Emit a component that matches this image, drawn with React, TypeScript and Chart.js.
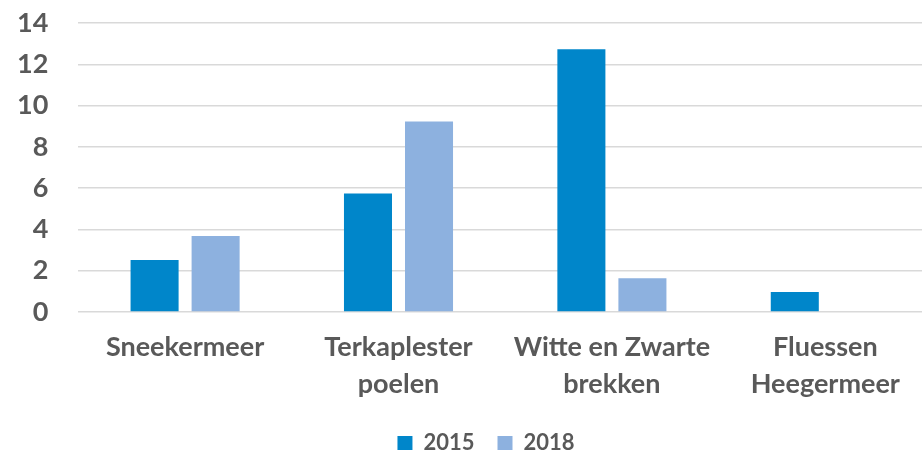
import React, { useEffect, useRef } from "react";
import { Chart, registerables } from "chart.js";

Chart.register(...registerables);

const categories: (string | string[])[] = [
  "Sneekermeer",
  ["Terkaplester", "poelen"],
  ["Witte en Zwarte", "brekken"],
  ["Fluessen", "Heegermeer"],
];
const seriesNames = ["2015", "2018"];
const values2015 = [2.52, 5.74, 12.73, 0.97];
const values2018 = [3.68, 9.23, 1.63, 0];
const yMin = 0;
const yMax = 14;
const yStep = 2;

const TEXT = "#595959";
const FONT = "Lato, 'DejaVu Sans', sans-serif";

const legendShift = {
  id: "legendShift",
  afterLayout(chart: any) {
    const lg = chart.legend;
    if (lg) {
      lg.left += 31;
      lg.right += 31;
    }
  },
};

export default function App() {
  const ref = useRef<HTMLCanvasElement | null>(null);

  useEffect(() => {
    document.body.style.margin = "0";
    document.body.style.overflow = "hidden";
    const canvas = ref.current;
    if (!canvas) return;
    const chart = new Chart(canvas, {
      type: "bar",
      data: {
        labels: categories,
        datasets: [
          {
            label: seriesNames[0],
            data: values2015,
            backgroundColor: "#0086CA",
            borderWidth: 0,
            categoryPercentage: 0.572,
            barPercentage: 0.787,
          },
          {
            label: seriesNames[1],
            data: values2018,
            backgroundColor: "#8DB1DF",
            borderWidth: 0,
            categoryPercentage: 0.572,
            barPercentage: 0.787,
          },
        ],
      },
      plugins: [legendShift],
      options: {
        animation: false,
        responsive: false,
        maintainAspectRatio: false,
        layout: { padding: { top: 23, right: 0, bottom: 0, left: 0 } },
        plugins: {
          tooltip: { enabled: false },
          legend: {
            position: "bottom",
            labels: {
              boxWidth: 15,
              boxHeight: 14,
              padding: 23,
              color: TEXT,
              font: { family: FONT, size: 22, weight: "bold" },
            },
          },
        },
        scales: {
          x: {
            grid: { display: false, drawTicks: false },
            border: { display: false },
            ticks: {
              color: TEXT,
              padding: 17,
              maxRotation: 0,
              autoSkip: false,
              font: { family: FONT, size: 27, weight: "bold", lineHeight: 1.37 },
            },
            afterFit: (scale: any) => {
              scale.height = 97;
            },
          },
          y: {
            min: yMin,
            max: yMax,
            grid: { color: "#D9D9D9", lineWidth: 1.5, drawTicks: false },
            border: { display: false },
            ticks: {
              stepSize: yStep,
              color: TEXT,
              padding: 30,
              font: { family: FONT, size: 27, weight: "bold" },
            },
            afterFit: (scale: any) => {
              scale.width = 100.4;
              scale.paddingTop = 0;
              scale.paddingBottom = 0;
            },
          },
        },
      },
    });
    return () => chart.destroy();
  }, []);

  return (
    <div style={{ width: 922, height: 457, overflow: "hidden", position: "relative" }}>
      <canvas
        ref={ref}
        width={954}
        height={464}
        style={{ position: "absolute", left: -22, top: 0, width: 954, height: 464 }}
      />
    </div>
  );
}
